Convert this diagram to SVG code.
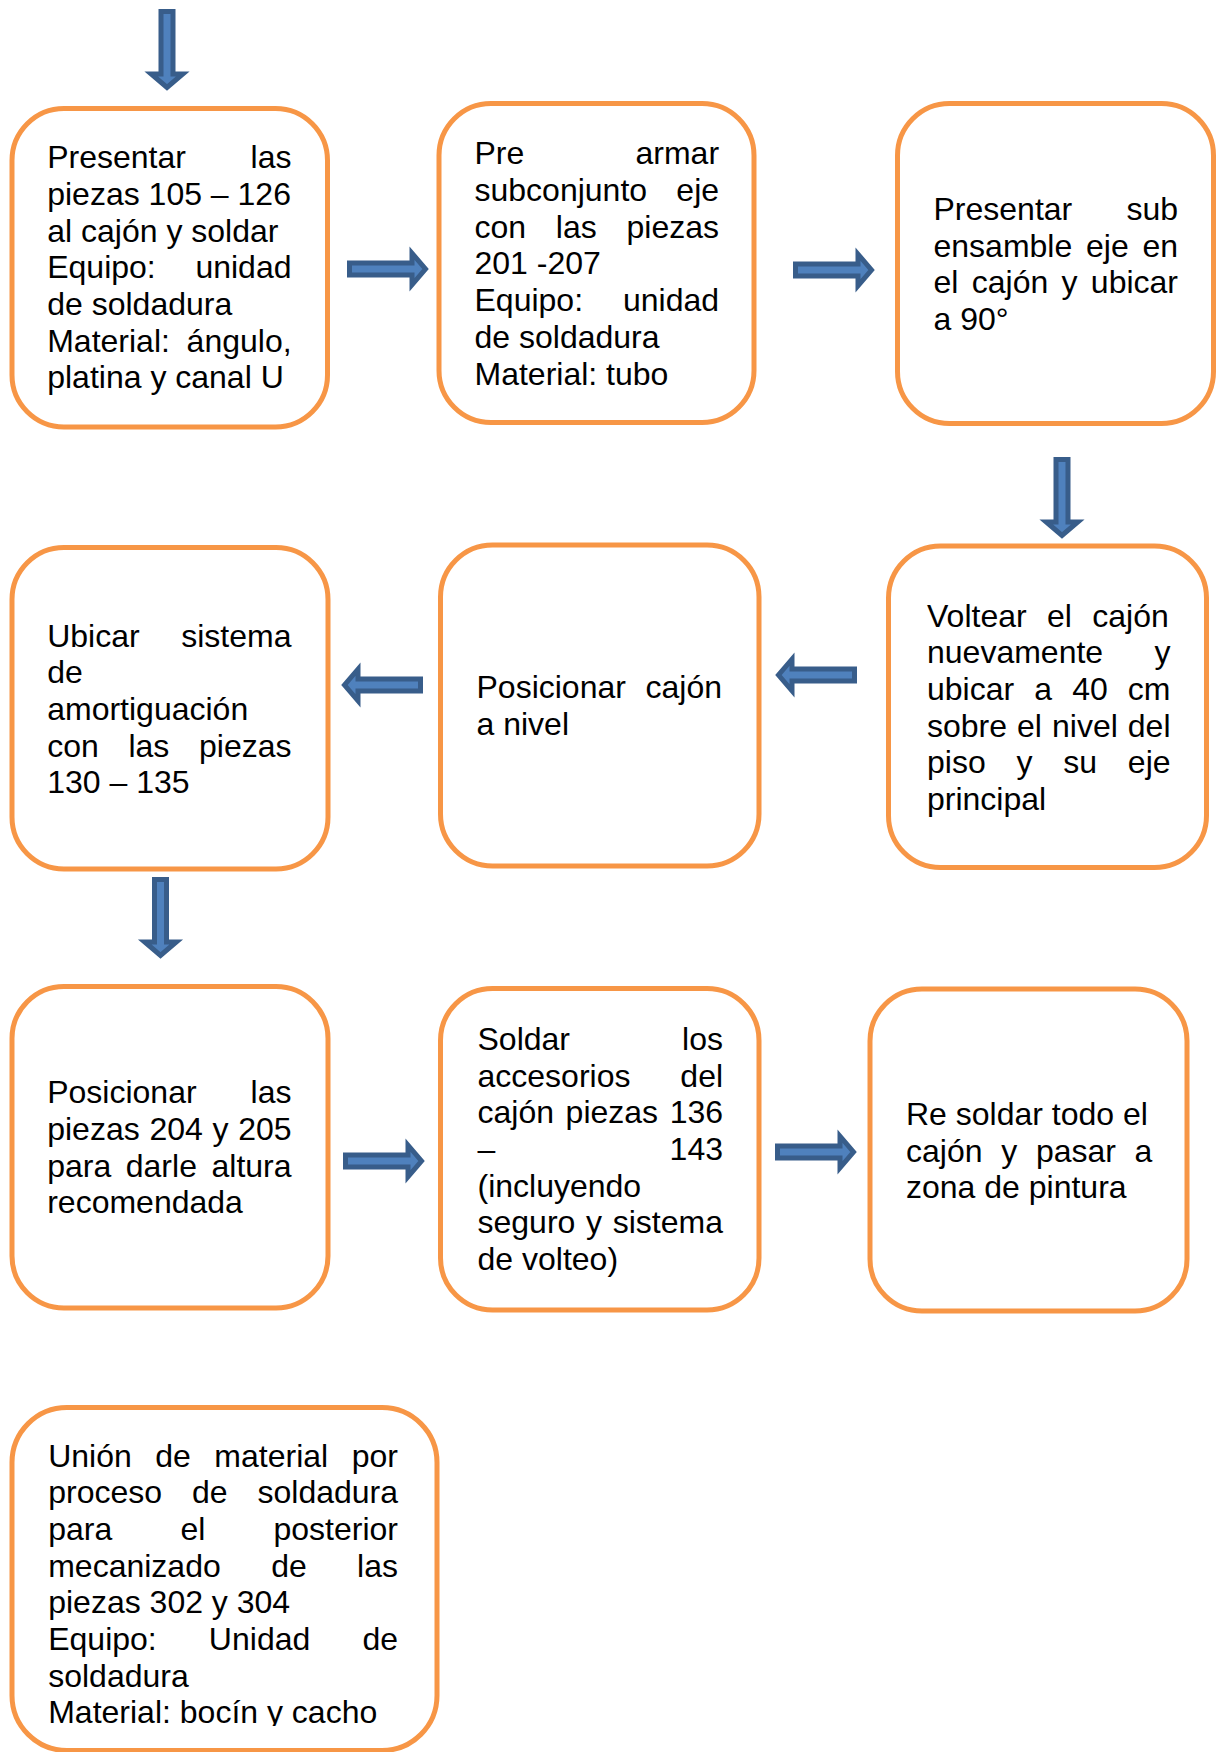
<svg xmlns="http://www.w3.org/2000/svg" width="1222" height="1752" viewBox="0 0 1222 1752">
  <style>
    .box { fill: #ffffff; stroke: #F79646; stroke-width: 5; }
    .t { font-family: "Liberation Sans", Arial, sans-serif; font-size: 32px; fill: #000000; }
    .arrow { fill: #4F81BD; stroke: #385D8A; stroke-width: 5; stroke-linejoin: miter; }
  </style>
  <defs>
    <!-- block arrow pointing right, origin at the tail, centred on y=0 -->
    <path id="arr" class="arrow" d="M2.5,-6 H65 V-15.8 L78.5,0 L65,15.8 V6 H2.5 Z"/>
    <clipPath id="clip10">
      <rect x="0" y="1400" width="460" height="326"/>
    </clipPath>
  </defs>

  <rect width="1222" height="1752" fill="#ffffff"/>

  <!-- connectors -->
  <g id="connectors">
    <use href="#arr" transform="translate(167,9) rotate(90)"/>
    <use href="#arr" transform="translate(347,269)"/>
    <use href="#arr" transform="translate(793,270)"/>
    <use href="#arr" transform="translate(1062,457) rotate(90)"/>
    <use href="#arr" transform="translate(857,675) rotate(180)"/>
    <use href="#arr" transform="translate(423,685) rotate(180)"/>
    <use href="#arr" transform="translate(160.5,877) rotate(90)"/>
    <use href="#arr" transform="translate(343,1161)"/>
    <use href="#arr" transform="translate(775,1152)"/>
  </g>

  <!-- step 1 -->
  <g id="n1">
    <rect class="box" x="12" y="108.5" width="315.5" height="318.5" rx="52" ry="52"/>
    <text class="t" x="47.2" y="168.3" word-spacing="55.8">Presentar las</text>
    <text class="t" x="47.2" y="205">piezas 105 – 126</text>
    <text class="t" x="47.2" y="241.6">al cajón y soldar</text>
    <text class="t" x="47.2" y="278.3" word-spacing="30.8">Equipo: unidad</text>
    <text class="t" x="47.2" y="315">de soldadura</text>
    <text class="t" x="47.2" y="351.6" word-spacing="7.8">Material: ángulo,</text>
    <text class="t" x="47.2" y="388.3">platina y canal U</text>
  </g>

  <!-- step 2 -->
  <g id="n2">
    <rect class="box" x="439" y="103.5" width="315" height="319" rx="52" ry="52"/>
    <text class="t" x="474.5" y="164" word-spacing="102.3">Pre armar</text>
    <text class="t" x="474.5" y="200.8" word-spacing="20.4">subconjunto eje</text>
    <text class="t" x="474.5" y="237.6" word-spacing="20.85">con las piezas</text>
    <text class="t" x="474.5" y="274.4">201 -207</text>
    <text class="t" x="474.5" y="311.2" word-spacing="31">Equipo: unidad</text>
    <text class="t" x="474.5" y="348">de soldadura</text>
    <text class="t" x="474.5" y="384.8">Material: tubo</text>
  </g>

  <!-- step 3 -->
  <g id="n3">
    <rect class="box" x="897.5" y="103.5" width="316" height="320" rx="52" ry="52"/>
    <text class="t" x="933.5" y="220" word-spacing="45.3">Presentar sub</text>
    <text class="t" x="933.5" y="256.7" word-spacing="4.85">ensamble eje en</text>
    <text class="t" x="933.5" y="293.4" word-spacing="4.43">el cajón y ubicar</text>
    <text class="t" x="933.5" y="330">a 90°</text>
  </g>

  <!-- step 4 -->
  <g id="n4">
    <rect class="box" x="888.5" y="546" width="318" height="321.5" rx="52" ry="52"/>
    <text class="t" x="927" y="626.7" word-spacing="11.5">Voltear el cajón</text>
    <text class="t" x="927" y="663.4" word-spacing="42.5">nuevamente y</text>
    <text class="t" x="927" y="700" word-spacing="11.2">ubicar a 40 cm</text>
    <text class="t" x="927" y="736.7" word-spacing="1.13">sobre el nivel del</text>
    <text class="t" x="927" y="773.4" word-spacing="21.9">piso y su eje</text>
    <text class="t" x="927" y="810">principal</text>
  </g>

  <!-- step 5 -->
  <g id="n5">
    <rect class="box" x="440.5" y="545" width="318.5" height="321" rx="52" ry="52"/>
    <text class="t" x="476.5" y="698.3" word-spacing="10.7">Posicionar cajón</text>
    <text class="t" x="476.5" y="735">a nivel</text>
  </g>

  <!-- step 6 -->
  <g id="n6">
    <rect class="box" x="12" y="547.5" width="316" height="321.5" rx="52" ry="52"/>
    <text class="t" x="47.2" y="646.7" word-spacing="32.7">Ubicar sistema</text>
    <text class="t" x="47.2" y="683.4">de</text>
    <text class="t" x="47.2" y="720">amortiguación</text>
    <text class="t" x="47.2" y="756.7" word-spacing="20.75">con las piezas</text>
    <text class="t" x="47.2" y="793.3">130 – 135</text>
  </g>

  <!-- step 7 -->
  <g id="n7">
    <rect class="box" x="12" y="986.5" width="316" height="321.5" rx="52" ry="52"/>
    <text class="t" x="47.2" y="1103.3" word-spacing="45.1">Posicionar las</text>
    <text class="t" x="47.2" y="1140" word-spacing="0.8">piezas 204 y 205</text>
    <text class="t" x="47.2" y="1176.7" word-spacing="5.65">para darle altura</text>
    <text class="t" x="47.2" y="1213.3">recomendada</text>
  </g>

  <!-- step 8 -->
  <g id="n8">
    <rect class="box" x="440.5" y="988.5" width="318.5" height="321.5" rx="52" ry="52"/>
    <text class="t" x="477.5" y="1050" word-spacing="103.2">Soldar los</text>
    <text class="t" x="477.5" y="1086.7" word-spacing="41">accesorios del</text>
    <text class="t" x="477.5" y="1123.3" word-spacing="2.7">cajón piezas 136</text>
    <text class="t" x="477.5" y="1160" word-spacing="165.4">– 143</text>
    <text class="t" x="477.5" y="1196.7">(incluyendo</text>
    <text class="t" x="477.5" y="1233.3" word-spacing="1.8">seguro y sistema</text>
    <text class="t" x="477.5" y="1270">de volteo)</text>
  </g>

  <!-- step 9 -->
  <g id="n9">
    <rect class="box" x="870" y="989" width="317" height="322" rx="52" ry="52"/>
    <text class="t" x="906" y="1125">Re soldar todo el</text>
    <text class="t" x="906" y="1161.7" word-spacing="9.8">cajón y pasar a</text>
    <text class="t" x="906" y="1198.3">zona de pintura</text>
  </g>

  <!-- step 10 -->
  <g id="n10">
    <rect class="box" x="12" y="1407.5" width="425" height="343" rx="55" ry="55"/>
    <g clip-path="url(#clip10)">
      <text class="t" x="48.2" y="1466.7" word-spacing="14.6">Unión de material por</text>
      <text class="t" x="48.2" y="1503.4" word-spacing="21.05">proceso de soldadura</text>
      <text class="t" x="48.2" y="1540" word-spacing="59.3">para el posterior</text>
      <text class="t" x="48.2" y="1576.7" word-spacing="41.5">mecanizado de las</text>
      <text class="t" x="48.2" y="1613.4">piezas 302 y 304</text>
      <text class="t" x="48.2" y="1650" word-spacing="43.25">Equipo: Unidad de</text>
      <text class="t" x="48.2" y="1686.7">soldadura</text>
      <text class="t" x="48.2" y="1723.3">Material: bocín y cacho</text>
    </g>
  </g>
</svg>
